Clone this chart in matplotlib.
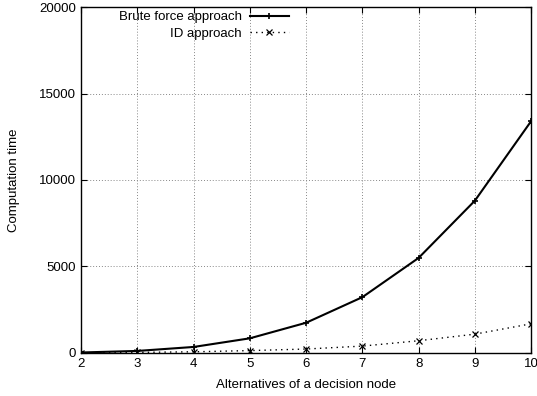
import matplotlib
matplotlib.use('Agg')
import matplotlib.pyplot as plt

plt.rcParams['font.family'] = ['Liberation Sans', 'DejaVu Sans']

# data
alternatives = [2, 3, 4, 5, 6, 7, 8, 9, 10]
brute_force = [20, 110, 340, 840, 1740, 3220, 5490, 8800, 13400]
id_approach = [5, 25, 60, 130, 220, 390, 700, 1080, 1680]

fig = plt.figure(figsize=(5.37, 3.96), dpi=100)
ax = fig.add_axes([0.151, 0.109, 0.838, 0.873])

ax.plot(alternatives, brute_force, color='black', lw=1.5, marker='+',
        ms=5, mew=1.2, label='Brute force approach')
ax.plot(alternatives, id_approach, color='black', lw=1.0, ls=(0, (1, 3)),
        marker='x', ms=4, mew=0.9, label='ID approach')

ax.set_xlim(2, 10)
ax.set_ylim(0, 20000)
ax.set_xticks(alternatives)
ax.set_yticks([0, 5000, 10000, 15000, 20000])
ax.grid(True, color='#888888', ls=(0, (1, 2)), lw=0.7)
ax.tick_params(direction='in', top=True, right=True, labelsize=9.5, length=4)
for s in ax.spines.values():
    s.set_linewidth(1.0)

ax.set_xlabel('Alternatives of a decision node', fontsize=9.5, labelpad=7)
ax.set_ylabel('Computation time', fontsize=9.5, labelpad=14)

leg = ax.legend(loc='upper right', bbox_to_anchor=(0.48, 1.012), frameon=False,
                markerfirst=False, fontsize=9.5, handlelength=3.0,
                handletextpad=0.6, labelspacing=0.35, borderaxespad=0.2)
for t in leg.get_texts():
    t.set_ha('right')

fig.savefig('out.png', dpi=100)
